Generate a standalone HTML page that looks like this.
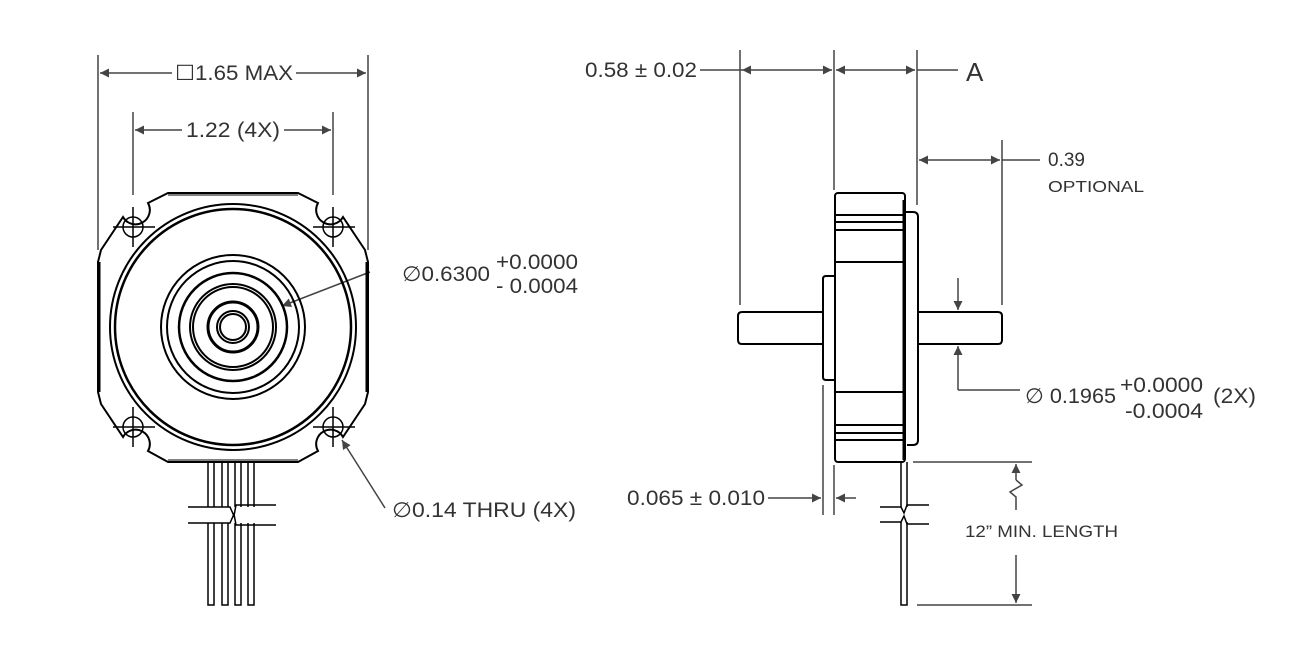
<!DOCTYPE html>
<html><head><meta charset="utf-8"><style>
html,body{margin:0;padding:0;background:#fff;}
svg{display:block;font-family:"Liberation Sans",sans-serif;}
.t{fill:#333;font-size:21px;}
</style></head><body>
<svg width="1315" height="664" viewBox="0 0 1315 664" xmlns="http://www.w3.org/2000/svg">
<defs>
<marker id="a" viewBox="0 0 10 10" refX="10" refY="5" markerWidth="18" markerHeight="9" markerUnits="userSpaceOnUse" orient="auto-start-reverse"><path d="M0,0 L10,5 L0,10 z" fill="#444"/></marker>
</defs>
<g stroke="#444" stroke-width="1.5" fill="none">
<line x1="98" y1="55" x2="98" y2="250"/>
<line x1="368" y1="55" x2="368" y2="250"/>
<line x1="100" y1="73" x2="172" y2="73" marker-start="url(#a)"/>
<line x1="296" y1="73" x2="366" y2="73" marker-end="url(#a)"/>
<line x1="133" y1="112" x2="133" y2="195"/>
<line x1="333" y1="112" x2="333" y2="195"/>
<line x1="135" y1="130" x2="182" y2="130" marker-start="url(#a)"/>
<line x1="284" y1="130" x2="331" y2="130" marker-end="url(#a)"/>
<line x1="370" y1="272" x2="282" y2="306" marker-end="url(#a)"/>
<line x1="385" y1="508" x2="342" y2="440" marker-end="url(#a)"/>
<line x1="740" y1="50" x2="740" y2="305"/>
<line x1="834" y1="50" x2="834" y2="190"/>
<line x1="917" y1="50" x2="917" y2="205"/>
<line x1="1002" y1="140" x2="1002" y2="305"/>
<line x1="700" y1="70" x2="742" y2="70"/>
<line x1="742" y1="70" x2="832" y2="70" marker-start="url(#a)" marker-end="url(#a)"/>
<line x1="836" y1="70" x2="915" y2="70" marker-start="url(#a)" marker-end="url(#a)"/>
<line x1="917" y1="70" x2="958" y2="70"/>
<line x1="919" y1="160" x2="1000" y2="160" marker-start="url(#a)" marker-end="url(#a)"/>
<line x1="1002" y1="160" x2="1040" y2="160"/>
<line x1="958" y1="278" x2="958" y2="310" marker-end="url(#a)"/>
<line x1="958" y1="390" x2="958" y2="346" marker-end="url(#a)"/>
<line x1="958" y1="390" x2="1020" y2="390"/>
<line x1="823" y1="385" x2="823" y2="515"/>
<line x1="834" y1="465" x2="834" y2="515"/>
<line x1="768" y1="498" x2="821" y2="498" marker-end="url(#a)"/>
<line x1="856" y1="498" x2="836" y2="498" marker-end="url(#a)"/>
<line x1="913" y1="462" x2="1032" y2="462"/>
<line x1="917" y1="605" x2="1032" y2="605"/>
<line x1="1016" y1="480" x2="1016" y2="464" marker-end="url(#a)"/>
<polyline points="1016,480 1022,485 1010,492 1016,497 1016,510"/>
<line x1="1016" y1="555" x2="1016" y2="603" marker-end="url(#a)"/>
</g>
<g stroke="#000" stroke-width="2" fill="none">
<path d="M168,193 L298,193 L318,203 A12,12 0 0 0 343,217 L365,250 L368,262 L368,392 L365,404 L343,437 A12,12 0 0 0 318,451 L298,462 L168,462 L148,451 A12,12 0 0 0 123,437 L101,404 L98,392 L98,262 L101,250 L123,217 A12,12 0 0 0 148,203 Z"/>
<line x1="99" y1="262" x2="99" y2="392" stroke-width="3"/>
<line x1="367" y1="262" x2="367" y2="392" stroke-width="3"/>
<line x1="168" y1="195" x2="298" y2="195" stroke-width="1"/>
<line x1="168" y1="460" x2="298" y2="460" stroke-width="1"/>
<circle cx="233" cy="327" r="123"/>
<circle cx="233" cy="327" r="118" stroke-width="2.5"/>
<circle cx="233" cy="327" r="72"/>
<circle cx="233" cy="327" r="66"/>
<circle cx="233" cy="327" r="54" stroke-width="2.5"/>
<circle cx="233" cy="327" r="43"/>
<circle cx="233" cy="327" r="40"/>
<circle cx="233" cy="327" r="25" stroke-width="3"/>
<circle cx="233" cy="327" r="16"/>
<circle cx="233" cy="327" r="13"/>
<g stroke-width="1.5">
<line x1="113" y1="227" x2="155" y2="227"/><line x1="133" y1="207" x2="133" y2="247"/>
<line x1="313" y1="227" x2="355" y2="227"/><line x1="333" y1="207" x2="333" y2="247"/>
<line x1="113" y1="427" x2="155" y2="427"/><line x1="133" y1="407" x2="133" y2="447"/>
<line x1="313" y1="427" x2="355" y2="427"/><line x1="333" y1="407" x2="333" y2="447"/>
<circle cx="133" cy="227" r="10"/><circle cx="333" cy="227" r="10"/>
<circle cx="133" cy="427" r="10"/><circle cx="333" cy="427" r="10"/>
</g>
<g stroke-width="1.5">
<path d="M208,462 V507 M214,462 V507 M222,462 V507 M228,462 V507 M235,462 V507 M241,462 V507 M248,462 V507 M254,462 V507"/>
<path d="M208,523 V605 H214 V523 M222,523 V605 H228 V523 M235,523 V605 H241 V523 M248,523 V605 H254 V523"/>
<path d="M188,507 H230 L234,516 L236,505 H276"/>
<path d="M188,523 H230 L234,514 L236,525 H276"/>
</g>
<rect x="835" y="193" width="70" height="269" rx="3"/>
<path d="M835,215 H905 M835,222 H905 M835,230 H905 M835,262 H905 M835,392 H905 M835,425 H905 M835,433 H905 M835,440 H905"/>
<path d="M905,212 H913 Q918,212 918,217 V440 Q918,445 913,445 H907"/>
<line x1="904" y1="200" x2="904" y2="460" stroke-width="3"/>
<path d="M835,276 H826 Q823,276 823,279 V377 Q823,380 826,380 H835"/>
<path d="M823,312 H742 Q738,312 738,316 V340 Q738,344 742,344 H823"/>
<path d="M918,312 H998 Q1002,312 1002,316 V340 Q1002,344 998,344 H918"/>
<g stroke-width="1.5">
<path d="M901,462 V507 M907,462 V507 M901,522 V605 H907 V522"/>
<path d="M880,507 H901 L904,513 L907,505 H929"/>
<path d="M880,522 H901 L904,516 L907,524 H929"/>
</g>
</g>
<g class="t" lengthAdjust="spacingAndGlyphs">
<text x="175" y="80" textLength="118" lengthAdjust="spacingAndGlyphs">☐1.65 MAX</text>
<text x="186" y="137" textLength="94" lengthAdjust="spacingAndGlyphs">1.22 (4X)</text>
<text x="402" y="281" textLength="88" lengthAdjust="spacingAndGlyphs">∅0.6300</text>
<text x="496" y="269" textLength="82" lengthAdjust="spacingAndGlyphs">+0.0000</text>
<text x="496" y="293" textLength="82" lengthAdjust="spacingAndGlyphs">- 0.0004</text>
<text x="392" y="517" textLength="184" lengthAdjust="spacingAndGlyphs">∅0.14 THRU (4X)</text>
<text x="585" y="77" textLength="112" lengthAdjust="spacingAndGlyphs">0.58 ± 0.02</text>
<text x="966" y="81" style="font-size:26px">A</text>
<text x="1048" y="166" style="font-size:19px">0.39</text>
<text x="1048" y="192" style="font-size:16px" textLength="96" lengthAdjust="spacingAndGlyphs">OPTIONAL</text>
<text x="1025" y="403" textLength="91" lengthAdjust="spacingAndGlyphs">∅ 0.1965</text>
<text x="1120" y="392" textLength="83" lengthAdjust="spacingAndGlyphs">+0.0000</text>
<text x="1125" y="418" textLength="78" lengthAdjust="spacingAndGlyphs">-0.0004</text>
<text x="1213" y="403" textLength="43" lengthAdjust="spacingAndGlyphs">(2X)</text>
<text x="627" y="505" textLength="138" lengthAdjust="spacingAndGlyphs">0.065 ± 0.010</text>
<text x="965" y="537" style="font-size:17px" textLength="153" lengthAdjust="spacingAndGlyphs">12” MIN. LENGTH</text>
</g>
</svg>
</body></html>
